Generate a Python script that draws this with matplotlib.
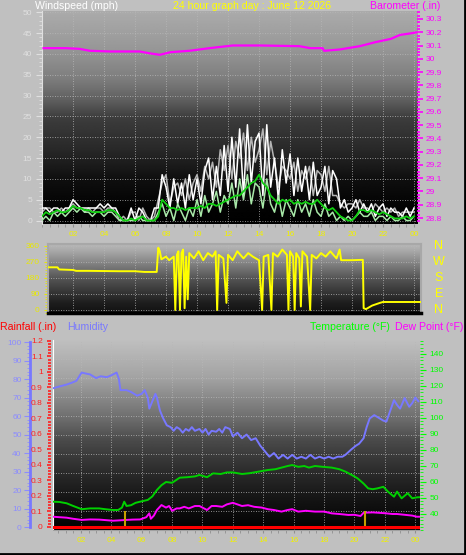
import numpy as np
import matplotlib
matplotlib.use('Agg')
import matplotlib.pyplot as plt
from matplotlib.ticker import MultipleLocator, FuncFormatter
from matplotlib.lines import Line2D

'''Weather station 24 hour graph: wind, wind direction, temperature/humidity.'''

plt.rcParams['font.family'] = ['Liberation Sans', 'DejaVu Sans']

# ---- data -------------------------------------------------------------
# wind, sampled every 15 minutes from 00:00 to 24:00
wind_gust = [3, 3, 2, 3,  3, 2, 3, 3,  5, 4, 3, 3,  3, 3, 3, 4,
             3, 4, 3, 3,  1, 0, 0, 3,  0, 3, 2, 0,  0, 3, 3, 11,
             8, 3, 10, 4,  9, 3, 11, 5,  10, 4, 12, 15,  5, 13, 6, 18,
             7, 20, 8, 22,  6, 23, 9, 19,  21, 6, 23, 8,  15, 5, 17, 9,
             16, 6, 15, 7,  13, 5, 14, 6,  8, 13, 4, 12,  10, 3, 5, 2,
             3, 5, 2, 4,  2, 4, 1, 3,  4, 1, 3, 2,  2, 1, 3, 1,  3]
wind_gust2 = [2, 3, 3, 2,  2, 3, 2, 3,  4, 3, 3, 2,  3, 2, 3, 3,
              2, 3, 3, 2,  0, 1, 0, 2,  2, 0, 3, 1,  0, 1, 5, 9,
              11, 4, 8, 9,  6, 10, 5, 9,  11, 7, 13, 10,  14, 8, 17, 12,
              18, 10, 19, 15,  21, 12, 20, 14,  17, 22, 11, 19,  14, 8, 13, 12,
              10, 14, 7, 12,  10, 13, 6, 12,  11, 7, 13, 6,  6, 4, 3, 4,
              4, 3, 5, 3,  3, 2, 4, 3,  2, 3, 2, 3,  1, 2, 2, 2,  2]
wind_speed = [0, 1, 0, 2,  1, 2, 1, 2,  3, 2, 3, 2,  2, 1, 2, 2,
              1, 2, 2, 1,  0, 0, 0, 0,  0, 1, 0, 0,  0, 0, 2, 4,
              1, 3, 0, 4,  2, 0, 3, 1,  5, 1, 6, 2,  4, 7, 2, 6,
              4, 9, 3, 10,  5, 11, 4, 9,  8, 3, 10, 4,  2, 6, 1, 5,
              3, 1, 5, 2,  4, 1, 5, 2,  1, 4, 1, 2,  0, 1, 0, 1,
              0, 1, 2, 1,  1, 2, 0, 1,  1, 0, 1, 0,  0, 1, 0, 0,  1]
wind_avg = [1, 2, 1.5, 2,  2.5, 2, 2, 2.5,  3.5, 3, 3, 2.5,  2.5, 2, 2, 2,
            2, 2.5, 2.5, 2,  1, 0, 0, 0.5,  0, 0.5, 1, 0,  0, 0, 1, 5,
            4, 3, 3, 2.5,  3, 2.5, 3, 3,  3, 3.5, 3, 4,  4, 3.5, 4, 4.5,
            5, 5.5, 6, 6,  7, 8, 9, 9.5,  11, 9, 8, 6,  5, 4, 5, 4.5,
            5, 4, 4.5, 4,  4.5, 4, 4, 5,  4, 3, 2.5, 3,  2, 1, 0.5, 0,
            0, 1, 2.5, 2.5,  2, 2.5, 2, 1.5,  2, 1.5, 1, 0.5,  0.5, 0.5, 1, 0.5,  1]

baro_hours = [0.1, 1.5, 2.4, 3.1, 4.4, 6.3, 7.0, 7.6, 8.3, 9.5, 10.8, 12.3,
              14.1, 16.6, 17.3, 18.1, 18.2, 19.2, 20.5, 21.5, 22.5, 23.1, 23.7, 24.2]
baro_in = [30.08, 30.08, 30.075, 30.06, 30.055, 30.055, 30.04, 30.03, 30.05, 30.06,
           30.08, 30.10, 30.10, 30.095, 30.08, 30.08, 30.06, 30.07, 30.095, 30.125,
           30.15, 30.18, 30.19, 30.20]

dir_hours = [0.4, 1.0, 1.1, 2.0, 2.2, 3.0, 5.0, 6.0, 6.6, 7.4, 7.5, 7.6, 7.7, 8.0,
             8.2, 8.5, 8.6, 8.7, 8.8, 8.9, 9.0, 9.1, 9.2, 9.3, 9.4, 9.5, 9.8, 10.1,
             10.4, 10.7, 11.0, 11.2, 11.3, 11.4, 11.7, 11.9, 12.0, 12.3, 12.6, 13.0,
             13.3, 13.6, 14.0, 14.2, 14.3, 14.6, 14.8, 14.9, 15.2, 15.5, 15.8, 15.9,
             16.0, 16.2, 16.3, 16.4, 16.6, 16.7, 16.8, 17.1, 17.3, 17.4, 17.7, 18.0,
             18.3, 18.6, 19.0, 19.2, 19.3, 20.0, 20.7, 20.75, 20.9, 21.3, 21.8, 22.0, 24.45]
dir_deg = [240, 240, 228, 225, 220, 220, 218, 218, 214, 214, 350, 330, 285, 300,
           280, 300, 0, 310, 330, 0, 320, 340, 10, 300, 60, 320, 290, 330,
           280, 320, 300, 330, 0, 310, 290, 40, 310, 280, 330, 290,
           320, 300, 280, 0, 300, 310, 0, 320, 300, 340, 310, 0,
           330, 300, 0, 320, 290, 20, 330, 300, 0, 310, 290, 320,
           300, 330, 290, 340, 280, 280, 282, 10, 5, 25, 40, 45, 45]

hum_hours = [0.16, 0.6, 1.06, 1.4, 1.7, 2.05, 2.3, 2.6, 3.0, 3.3, 3.7, 4.0, 4.35, 4.5,
             4.6, 5.0, 5.3, 5.7, 6.0, 6.2, 6.4, 6.5, 6.7, 6.9, 7.0, 7.2, 7.4, 7.65,
             7.9, 8.1, 8.3, 8.5, 8.7, 8.9, 9.1, 9.3, 9.5, 9.8, 10.0, 10.2, 10.4, 10.6,
             10.9, 11.1, 11.3, 11.5, 11.8, 12.0, 12.3, 12.6, 12.9, 13.2, 13.5, 13.8,
             14.0, 14.2, 14.4, 14.7, 15.0, 15.3, 15.6, 15.9, 16.2, 16.5, 16.8, 17.1,
             17.4, 17.7, 18.0, 18.3, 18.6, 18.9, 19.2, 19.4, 19.8, 20.1, 20.3, 20.6,
             20.8, 21.0, 21.3, 21.6, 21.9, 22.1, 22.4, 22.6, 22.8, 23.0, 23.3, 23.6,
             23.8, 24.0, 24.2]
hum_pct = [75, 76, 77, 78, 79, 83.5, 83, 82.5, 80.5, 81.5, 81, 82, 83.5, 80,
           74, 74, 73, 71, 72, 74, 70, 64, 68, 72, 70, 63, 59, 55,
           54, 52, 54, 53, 51, 53, 52, 54, 52, 53, 51, 53, 50, 52,
           51.5, 53, 51, 54, 53, 49, 51, 48, 50, 47, 48, 44,
           42, 40, 38, 40, 37, 39, 37, 39, 37, 38, 37, 39,
           37, 38, 37, 38, 37, 38, 38, 39, 42, 44, 45, 48,
           54, 58.7, 60.5, 59, 57.5, 57, 64, 68.6, 66, 64, 69.7, 65,
           67, 70, 68]

temp_hours = [0.16, 0.6, 1.06, 1.5, 2.05, 2.6, 3.2, 3.6, 4.1, 4.45, 4.7, 4.85, 5.0,
              5.3, 5.6, 5.9, 6.4, 6.7, 7.0, 7.3, 7.6, 8.0, 8.5, 9.0, 9.5, 9.8, 10.3,
              10.7, 11.2, 11.6, 12.0, 12.6, 13.1, 13.7, 14.3, 14.8, 15.2, 15.6, 15.9,
              16.3, 16.7, 17.0, 17.4, 17.9, 18.5, 19.0, 19.4, 19.8, 20.2, 20.6, 20.9,
              21.2, 21.5, 21.9, 22.2, 22.6, 22.8, 23.1, 23.5, 23.8, 24.1, 24.3]
temp_f = [47.7, 47.5, 46.7, 45, 43, 43.5, 43.5, 43, 42.5, 42.5, 44, 47.7, 45,
          45.5, 47, 47.7, 48.8, 51, 55, 58, 60, 59.5, 62.7, 63, 63.5, 64.4, 63,
          65.4, 65, 66, 66, 65, 65.5, 66.5, 67.5, 68, 69, 70, 70.6,
          69.5, 70, 69, 70, 69.5, 69, 68, 66.5, 64.5, 62.3, 59, 56,
          55.5, 56, 57, 54, 50.8, 54, 49.8, 53, 49.8, 50.4, 50.5]

dew_hours = [0.16, 0.6, 1.06, 1.5, 2.05, 2.6, 3.2, 3.6, 4.1, 4.5, 5.0, 5.4, 5.9, 6.3,
             6.5, 6.6, 6.8, 7.0, 7.3, 7.6, 7.8, 8.0, 8.3, 8.5, 8.8, 9.1, 9.5, 9.8,
             10.0, 10.3, 10.6, 10.9, 11.3, 11.6, 12.0, 12.3, 12.6, 13.0, 13.4, 13.9,
             14.3, 14.7, 15.2, 15.6, 15.9, 16.3, 16.8, 17.4, 18.0, 18.5, 19.0, 19.6,
             20.0, 20.4, 20.6, 21.2, 22.0, 22.5, 22.8, 23.3, 23.8, 24.1, 24.3]
dew_f = [38.3, 38, 37.7, 37, 36.3, 36.6, 36.5, 36.2, 35.8, 36, 36.3, 36.5, 36.6, 38,
         40.4, 37, 39, 42.5, 45.6, 44, 45, 42, 43.5, 43.5, 44.5, 43.5, 45, 45,
         44, 42.5, 45, 45, 44.5, 46, 47, 46, 45, 45.5, 44.5, 44,
         43, 42.5, 41.5, 42.5, 43, 41.5, 42, 41.5, 41.5, 40.4, 40, 39.4,
         39.5, 38.75, 40.8, 41, 40.5, 40, 40, 39.5, 39, 38.3, 38.3]

rain_hours = [0, 24.4]
rain_in = [0.0, 0.0]
rate_hours = [4.9, 20.7]
rate_in = [0.1, 0.1]

hour_ticks = list(range(2, 25, 2))
hour_labels = ['%02d' % (h % 24) for h in hour_ticks]

# ---- layout helpers -------------------------------------------------------
W, H = 466, 555
BG = '#c0c0c0'
GRID = dict(color='#b8b8b8', linestyle=(0, (1, 2)), linewidth=0.6)
TS = 6  # tick label size


def box(x0, y0, x1, y1):
    '''pixel box measured from top-left -> figure fraction rect'''
    return [x0 / W, 1 - y1 / H, (x1 - x0) / W, (y1 - y0) / H]


def shade(ax, stops):
    '''vertical gray gradient behind the plot'''
    pos, lev = zip(*stops)
    g = np.interp(np.linspace(0, 1, 256), pos, lev)[:, None]
    ax.imshow(g, extent=[0, 1, 0, 1], transform=ax.transAxes, origin='upper',
              cmap='gray', vmin=0, vmax=1, aspect='auto', zorder=0,
              interpolation='bilinear')


def num(v, _):
    return '%g' % round(v, 2)


fig = plt.figure(figsize=(W / 100, H / 100), dpi=100)
fig.patch.set_facecolor(BG)
hrs = np.arange(len(wind_gust)) * 0.25

# ---- top: wind speed + barometer ------------------------------------------
ax1 = fig.add_axes(box(42, 11, 417, 224))
shade(ax1, [(0, 0.67), (0.18, 0.59), (0.32, 0.49), (0.42, 0.37), (0.5, 0.24),
            (0.65, 0.16), (0.79, 0.06), (0.93, 0.01), (1, 0.0)])
ax1.plot(hrs, wind_gust2, color='#b4b4b4', lw=1.1, zorder=2)
ax1.plot(hrs, wind_gust, color='white', lw=1.1, zorder=3)
ax1.plot(hrs, wind_speed, color='#a8e8a8', lw=1.1, zorder=4)
ax1.plot(hrs, wind_avg, color='#10d010', lw=1.3, zorder=5)
ax1.set_xlim(0, 24.19)
ax1.set_ylim(-0.84, 50.31)
ax1.set_xticks(hour_ticks)
ax1.set_xticklabels(hour_labels)
ax1.xaxis.set_minor_locator(MultipleLocator(0.5))
ax1.tick_params(axis='x', which='both', colors='#909090', labelcolor='#f0f000',
                labelsize=TS, length=2, pad=3)
ax1.yaxis.set_major_locator(MultipleLocator(5))
ax1.yaxis.set_minor_locator(MultipleLocator(1))
ax1.tick_params(axis='y', which='major', colors='#e0e0e0', labelsize=TS,
                length=4, pad=3)
ax1.tick_params(axis='y', which='minor', colors='#e0e0e0', length=2)
ax1.grid(True, **GRID)
for s in ['top', 'right', 'bottom']:
    ax1.spines[s].set_visible(False)
ax1.spines['left'].set_color('#e0e0e0')

ax1b = ax1.twinx()
ax1b.plot(baro_hours, baro_in, color='#ff00ff', lw=1.6)
ax1b.set_ylim(28.755, 30.36)
ax1b.yaxis.set_major_locator(MultipleLocator(0.1))
ax1b.yaxis.set_minor_locator(MultipleLocator(0.025))
ax1b.yaxis.set_major_formatter(FuncFormatter(num))
ax1b.tick_params(axis='y', which='major', colors='#ff00ff', labelsize=TS,
                 length=4, width=1.2, pad=2)
ax1b.tick_params(axis='y', which='minor', colors='#ff00ff', length=2, width=1.2)
for s in ax1b.spines.values():
    s.set_visible(False)

fig.text(35 / W, 1 - 6 / H, 'Windspeed (mph)', color='white', fontsize=7.6,
         ha='left', va='center')
fig.text(252 / W, 1 - 6 / H, '24 hour graph day : June 12 2026', color='#ffff00',
         fontsize=7.6, ha='center', va='center')
fig.text(440 / W, 1 - 6 / H, 'Barometer (.in)', color='#ff00ff', fontsize=7.6,
         ha='right', va='center')

# ---- middle: wind direction ------------------------------------------------
ax2 = fig.add_axes(box(48, 244, 421, 313))
shade(ax2, [(0, 0.72), (0.1, 0.66), (0.5, 0.33), (0.85, 0.12), (1, 0.07)])
ax2.plot(dir_hours, dir_deg, color='#ffff00', lw=1.4, zorder=3)
ax2.set_xlim(0.387, 24.45)
ax2.set_ylim(-16.9, 371)
ax2.set_xticks(hour_ticks)
ax2.tick_params(axis='x', length=0, labelbottom=False)
ax2.set_yticks([0, 90, 180, 270, 360])
ax2.yaxis.set_minor_locator(MultipleLocator(15))
ax2.tick_params(axis='y', which='major', colors='#e8e800', labelsize=TS,
                length=3, pad=3)
ax2.tick_params(axis='y', which='minor', colors='#e8e800', length=2)
ax2.grid(True, **GRID)
for s in ['top', 'left', 'right']:
    ax2.spines[s].set_color('#a8a8a8')
    ax2.spines[s].set_linewidth(1.5)
ax2.spines['bottom'].set_color('black')
ax2.spines['bottom'].set_linewidth(2.5)
for deg, name in zip([0, 90, 180, 270, 360], ['N', 'E', 'S', 'W', 'N']):
    ax2.text((439 - 48) / 373, deg, name, color='#ffff00', fontsize=9,
             ha='center', va='center', transform=ax2.get_yaxis_transform())

# ---- bottom: rain, humidity, temperature, dew point ------------------------
ax3 = fig.add_axes(box(53, 340, 420, 530))
shade(ax3, [(0, 0.75), (0.21, 0.63), (0.42, 0.42), (0.53, 0.29), (0.68, 0.18),
            (0.84, 0.08), (0.97, 0.02), (1, 0.0)])
ax3.hlines(np.arange(1, 10) / 10, 0, 1, transform=ax3.transAxes, zorder=1, **GRID)
ax3.plot(temp_hours, temp_f, color='#00d000', lw=1.4, zorder=3)
ax3.plot(dew_hours, dew_f, color='#ff00ff', lw=1.4, zorder=3)
ax3.set_xlim(0.164, 24.31)
ax3.set_ylim(30, 148.75)
ax3.set_xticks(hour_ticks)
ax3.set_xticklabels(hour_labels)
ax3.xaxis.set_minor_locator(MultipleLocator(0.5))
ax3.tick_params(axis='x', which='both', colors='#909090', labelcolor='#f0f000',
                labelsize=TS, length=2, pad=3)
ax3.grid(True, axis='x', **GRID)

ax_h = ax3.twinx()
ax_h.plot(hum_hours, hum_pct, color='#7878ff', lw=1.4)
ax_h.set_ylim(-1.62, 101.1)
ax_h.yaxis.tick_left()
ax_h.spines['left'].set_position(('axes', (30 - 53) / 367))
ax_h.spines['left'].set_bounds(0, 100)
ax_h.spines['left'].set_color('#7878ff')
ax_h.spines['left'].set_linewidth(2)
for s in ['top', 'right', 'bottom']:
    ax_h.spines[s].set_visible(False)
ax_h.yaxis.set_major_locator(MultipleLocator(10))
ax_h.yaxis.set_minor_locator(MultipleLocator(2))
ax_h.tick_params(axis='y', which='major', colors='#8c8cff', labelsize=TS,
                 length=4, pad=2)
ax_h.tick_params(axis='y', which='minor', colors='#8c8cff', length=2)

ax_r = ax3.twinx()
ax_r.plot(rain_hours, rain_in, color='#ff0000', lw=2.2, zorder=4)
ax_r.vlines(rate_hours, 0, rate_in, color='#c8a000', lw=1.5, zorder=3)
ax_r.set_ylim(-0.0194, 1.206)
ax_r.yaxis.tick_left()
ax_r.spines['left'].set_position(('axes', -0.005))
ax_r.spines['left'].set_visible(False)
for s in ['top', 'right', 'bottom']:
    ax_r.spines[s].set_visible(False)
ax_r.yaxis.set_major_locator(MultipleLocator(0.1))
ax_r.yaxis.set_minor_locator(MultipleLocator(0.02))
ax_r.yaxis.set_major_formatter(FuncFormatter(num))
ax_r.tick_params(axis='y', which='major', colors='#ff2020', labelsize=TS,
                 length=3, width=1.2, pad=3)
ax_r.tick_params(axis='y', which='minor', colors='#ff2020', length=2, width=1.2)

# twinx moved the temperature ticks left, put them back on the right
ax3.yaxis.tick_right()
ax3.set_yticks(range(40, 141, 10))
ax3.yaxis.set_minor_locator(MultipleLocator(2))
ax3.tick_params(axis='y', which='major', colors='#00ff00', labelsize=TS,
                length=4, pad=3)
ax3.tick_params(axis='y', which='minor', colors='#00ff00', length=2)
ax3.spines['top'].set_visible(False)
ax3.spines['right'].set_visible(False)
ax3.spines['left'].set_color('white')
ax3.spines['bottom'].set_color('#a0a0a0')

fig.text(0 / W, 1 - 327 / H, 'Rainfall (.in)', color='#ff0000', fontsize=7.6,
         ha='left', va='center')
fig.text(67 / W, 1 - 327 / H, 'Humidity', color='#7878ff', fontsize=7.6,
         ha='left', va='center')
fig.text(390 / W, 1 - 327 / H, 'Temperature (\u00b0F)', color='#00ff00',
         fontsize=7.6, ha='right', va='center')
fig.text(463 / W, 1 - 327 / H, 'Dew Point (\u00b0F)', color='#ff00ff',
         fontsize=7.6, ha='right', va='center')

# window frame
fig.add_artist(Line2D([0, 1], [0.002, 0.002], transform=fig.transFigure,
                      color='black', lw=2))
fig.add_artist(Line2D([0.998, 0.998], [0, 1], transform=fig.transFigure,
                      color='black', lw=2))

fig.savefig('out.png', dpi=100, facecolor=BG)
